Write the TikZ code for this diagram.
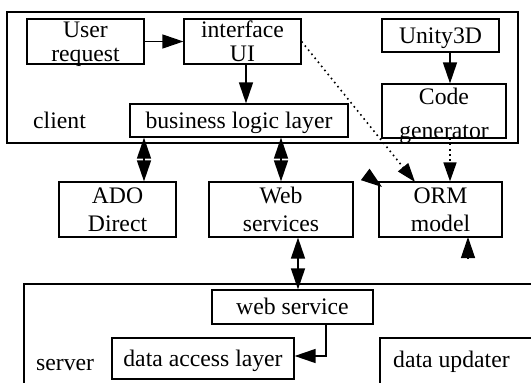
\documentclass[tikz,border=0pt]{standalone}
\usepackage{fontspec}
\setmainfont{Liberation Serif}
\usetikzlibrary{arrows.meta,calc}
\begin{document}
\begin{tikzpicture}[x=1pt,y=-1pt,
  every node/.style={font=\fontsize{23.7pt}{24pt}\selectfont, inner sep=0pt},
  box/.style={draw, line width=1.2pt, align=center, text height=16pt, text depth=1pt},
  twoline/.style={text height=40pt, text depth=1pt},
  twowide/.style={text height=44pt, text depth=1pt},
  frame/.style={draw, line width=1.2pt},
  conn/.style={line width=1.3pt, -{Triangle[length=21pt,width=14pt]}},
  dconn/.style={line width=1.3pt, {Triangle[length=21pt,width=14pt]}-{Triangle[length=21pt,width=14pt]}},
  dotconn/.style={line width=1.6pt, dash pattern=on 1.6pt off 3.6pt, -{Triangle[length=19pt,width=13pt]}}
]
\useasboundingbox (0,0) rectangle (531,383);
\clip (0,0) rectangle (531,383);
% containers
\node[frame, minimum width=511pt, minimum height=131pt] (client) at (262.5,77.5) {};
\node[frame, minimum width=521pt, minimum height=116pt] (server) at (284.5,342) {};
\node[anchor=base west] (clientlbl) at (33,128) {client};
\node[anchor=base west] (serverlbl) at (36,370) {server};
% client boxes
\node[box, twoline, minimum width=117pt, minimum height=45pt] (user) at (85.5,41.5) {User\\request};
\node[box, twoline, minimum width=117pt, minimum height=45pt] (iface) at (242.5,41.5) {interface\\UI};
\node[box, minimum width=117pt, minimum height=33pt] (unity) at (440.5,35.5) {Unity3D};
\node[box, text height=54pt, text depth=0pt, minimum width=124pt, minimum height=54pt] (codegen) at (444,111) {Code\\[10pt]generator};
\node[box, minimum width=218pt, minimum height=33pt] (bll) at (239,120.5) {business logic layer};
% middle row
\node[box, twowide, minimum width=117pt, minimum height=55pt] (ado) at (117.5,209.5) {ADO\\[4pt]Direct};
\node[box, twowide, minimum width=144pt, minimum height=55pt] (websrv) at (281,209.5) {Web\\[4pt]services};
\node[box, twowide, minimum width=123pt, minimum height=55pt] (orm) at (440.5,209.5) {ORM\\[4pt]model};
% server boxes
\node[box, minimum width=161pt, minimum height=34pt] (websvc) at (292.5,307) {web service};
\node[box, minimum width=182pt, minimum height=41pt] (dal) at (203,358.5) {data access layer};
\node[frame, minimum width=165pt, minimum height=62pt] (dupd) at (462.5,369) {};
\node[anchor=base west] (dupdtxt) at (393,367) {data updater};
% helper coordinates
\coordinate (ax) at (450,0);
\coordinate (ix) at (246,0);
\coordinate (bx1) at (144,0);
\coordinate (bx2) at (281,0);
\coordinate (bx3) at (298,0);
\coordinate (wx) at (326,0);
\coordinate (dy) at (0,356);
\coordinate (ormtip) at (415,182);
\coordinate (s1a) at (366,175);
\coordinate (s1b) at (382,187);
\coordinate (s2a) at (468,259);
\coordinate (s2b) at (468,237);
% connectors
\draw[conn] (user) -- (iface);
\draw[conn] (iface.south -| ix) -- (bll.north -| ix);
\draw[conn] (unity.south -| ax) -- (codegen.north -| ax);
\draw[dotconn] (iface.east) -- (ormtip);
\draw[dotconn] (codegen.south -| ax) -- (orm.north -| ax);
\draw[dconn] (bll.south -| bx1) -- (ado.north -| bx1);
\draw[dconn] (bll.south -| bx2) -- (websrv.north -| bx2);
\draw[dconn] (websrv.south -| bx3) -- (websvc.north -| bx3);
\draw[conn] (websvc.south -| wx) |- (dal.east |- dy);
\draw[conn] (s1a) -- (s1b);
\draw[conn] (s2a) -- (s2b);
\end{tikzpicture}
\end{document}
